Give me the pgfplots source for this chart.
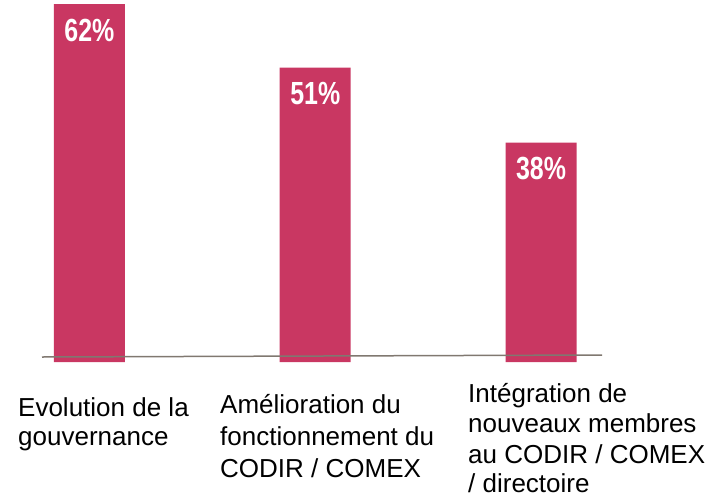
\documentclass[border=0pt]{standalone}
\usepackage{fontspec}
\setmainfont{Liberation Sans}
\newfontfamily\pctfont[FakeStretch=0.78]{Liberation Sans}
\usepackage{pgfplots}
\pgfplotsset{compat=1.18}
\definecolor{barcol}{RGB}{201,55,98}
\definecolor{linecol}{RGB}{128,120,112}
\begin{document}
\begin{tikzpicture}
\begin{axis}[
  at={(0pt,0pt)}, anchor=south west,
  scale only axis,
  width=560pt, height=362pt,
  xmin=-0.21, xmax=2.27,
  ymin=0, ymax=62.7,
  axis lines=none,
  /pgf/number format/assume math mode=true,
  ybar, bar width=71pt,
  nodes near coords={\pgfmathprintnumber{\pgfplotspointmeta}\%},
  every node near coord/.append style={anchor=center, yshift=-26pt,
    text=white, font=\pctfont\bfseries\fontsize{32}{32}\selectfont},
  clip=false,
]
\addplot[fill=barcol, draw=none] coordinates {(0,62) (1,51) (2,38)};
\end{axis}
\draw[linecol, line width=1.5pt] (0pt,5pt) -- (560pt,7pt);
\begin{scope}[every node/.style={anchor=base west, inner sep=0pt, font=\fontsize{26}{31}\selectfont}]
\node at (-24pt,-54pt) {Evolution de la};
\node at (-24pt,-83pt) {gouvernance};
\node at (178pt,-51pt) {Amélioration du};
\node at (178pt,-83pt) {fonctionnement du};
\node at (178pt,-115pt) {CODIR / COMEX};
\node at (426pt,-40pt) {Intégration de};
\node at (426pt,-70pt) {nouveaux membres};
\node at (426pt,-101pt) {au CODIR / COMEX};
\node at (426pt,-130pt) {/ directoire};
\end{scope}
\pgfresetboundingbox
\path (-42pt,-137pt) rectangle (680pt,362pt);
\end{tikzpicture}
\end{document}
